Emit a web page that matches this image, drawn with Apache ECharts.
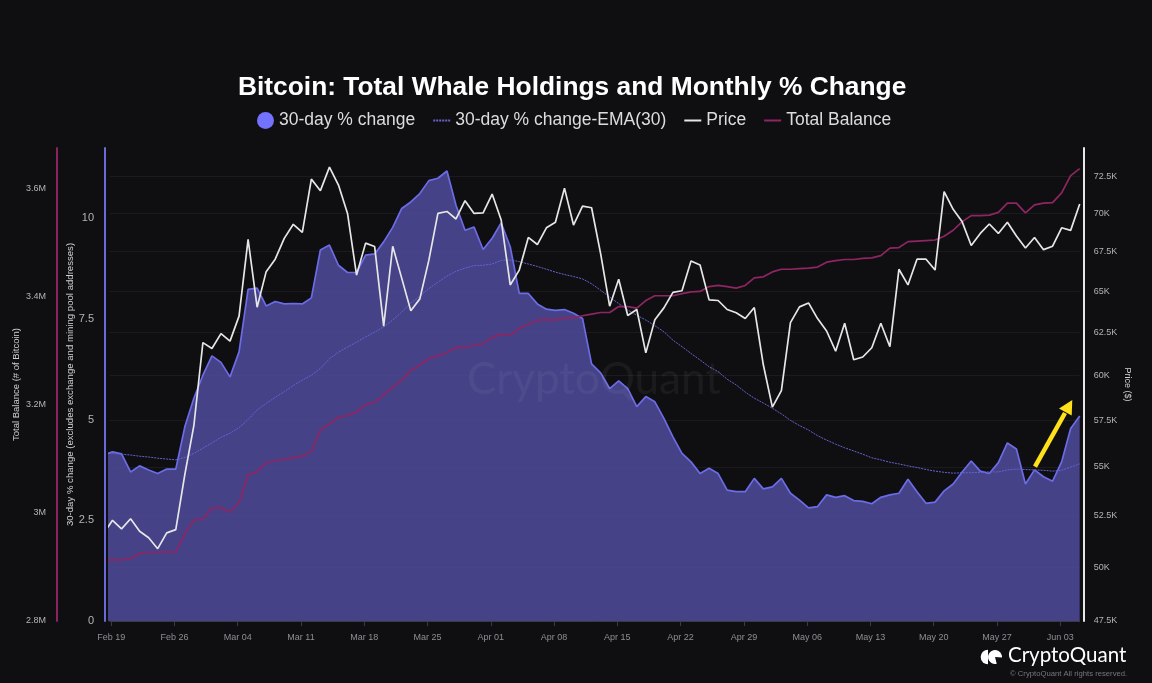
<!DOCTYPE html>
<html lang="en">
<head>
    <meta charset="UTF-8">
    <title>Bitcoin: Total Whale Holdings and Monthly % Change</title>
    <script type="text/javascript" src="https://cdn.jsdelivr.net/npm/echarts@6/dist/echarts.min.js"></script>
    <style>
        html, body { margin: 0; padding: 0; background: #0f0f12; }
        #chart { width: 1152px; height: 683px; }
    </style>
</head>
<body>
<div id="chart"></div>
<script type="text/javascript">
    var change30d = [4.12, 4.20, 4.15, 3.70, 3.85, 3.75, 3.66, 3.77, 3.77, 4.82, 5.53, 6.10, 6.58, 6.42, 6.06, 6.68, 8.23, 8.26, 7.82, 7.93,
        7.87, 7.88, 7.87, 8.02, 9.21, 9.33, 8.83, 8.65, 8.65, 9.08, 9.11, 9.41, 9.77, 10.24, 10.40, 10.61, 10.93, 10.99, 11.17, 10.32,
        9.70, 9.78, 9.22, 9.50, 9.88, 9.29, 8.13, 8.13, 7.87, 7.74, 7.71, 7.73, 7.64, 7.51, 6.38, 6.16, 5.77, 5.96, 5.77, 5.32,
        5.57, 5.44, 5.03, 4.57, 4.16, 3.95, 3.66, 3.79, 3.66, 3.25, 3.21, 3.21, 3.54, 3.28, 3.33, 3.54, 3.17, 3.00, 2.81, 2.84,
        3.13, 3.07, 3.11, 2.99, 2.97, 2.91, 3.07, 3.13, 3.17, 3.52, 3.21, 2.92, 2.95, 3.23, 3.40, 3.70, 3.97, 3.72, 3.66, 3.93,
        4.42, 4.27, 3.40, 3.75, 3.58, 3.47, 3.95, 4.78, 5.09];

    var changeEma = [4.16, 4.16, 4.14, 4.12, 4.09, 4.07, 4.04, 4.02, 4.00, 4.06, 4.16, 4.29, 4.42, 4.56, 4.66, 4.80, 5.00, 5.24, 5.40, 5.55,
        5.69, 5.84, 5.98, 6.10, 6.27, 6.51, 6.67, 6.80, 6.92, 7.05, 7.17, 7.30, 7.47, 7.67, 7.89, 8.06, 8.25, 8.41, 8.56, 8.68,
        8.76, 8.82, 8.83, 8.86, 8.95, 8.96, 8.92, 8.86, 8.80, 8.73, 8.66, 8.60, 8.55, 8.49, 8.37, 8.21, 8.04, 7.88, 7.72, 7.59,
        7.47, 7.33, 7.18, 6.97, 6.81, 6.64, 6.48, 6.31, 6.19, 6.00, 5.86, 5.68, 5.53, 5.41, 5.28, 5.14, 4.98, 4.85, 4.74, 4.60,
        4.49, 4.39, 4.30, 4.22, 4.14, 4.05, 4.00, 3.94, 3.90, 3.85, 3.81, 3.76, 3.72, 3.69, 3.67, 3.68, 3.68, 3.69, 3.70, 3.70,
        3.75, 3.77, 3.76, 3.75, 3.74, 3.72, 3.74, 3.82, 3.90];

    // thousands of $
    var price = [51.62, 52.27, 51.85, 52.35, 51.73, 51.41, 50.88, 51.65, 51.81, 54.59, 57.19, 61.89, 61.55, 62.42, 61.98, 63.47, 68.27, 64.01, 66.21, 67.00,
        68.34, 69.26, 68.73, 72.30, 71.51, 73.13, 71.89, 69.98, 66.00, 68.03, 67.81, 62.87, 67.83, 65.79, 63.79, 64.52, 66.94, 69.98, 70.11, 69.61,
        70.83, 69.98, 70.02, 71.28, 69.54, 65.38, 66.31, 68.40, 67.94, 69.03, 69.39, 71.68, 69.21, 70.47, 70.36, 67.36, 64.07, 65.73, 63.51, 63.87,
        61.29, 63.25, 63.97, 64.92, 65.02, 66.89, 66.63, 64.46, 64.42, 63.87, 63.67, 63.33, 63.99, 60.60, 58.21, 59.13, 63.08, 64.03, 64.27, 63.32,
        62.58, 61.39, 63.04, 60.89, 61.05, 61.59, 63.04, 61.65, 66.36, 65.38, 67.00, 67.00, 66.31, 71.44, 70.25, 69.42, 67.88, 68.66, 69.28, 68.66,
        69.39, 68.49, 67.72, 68.40, 67.61, 67.83, 69.03, 68.86, 70.61];

    // millions of BTC
    var totalBalance = [2.912, 2.913, 2.913, 2.915, 2.925, 2.927, 2.927, 2.928, 2.927, 2.962, 2.986, 2.988, 3.009, 3.009, 3.001, 3.019, 3.070, 3.076, 3.092, 3.097,
        3.098, 3.102, 3.105, 3.113, 3.153, 3.164, 3.176, 3.180, 3.186, 3.200, 3.204, 3.218, 3.232, 3.245, 3.263, 3.273, 3.285, 3.290, 3.296, 3.305,
        3.305, 3.310, 3.312, 3.324, 3.330, 3.328, 3.341, 3.348, 3.356, 3.357, 3.356, 3.360, 3.360, 3.364, 3.367, 3.370, 3.370, 3.381, 3.381, 3.378,
        3.392, 3.401, 3.401, 3.401, 3.405, 3.408, 3.409, 3.418, 3.420, 3.418, 3.415, 3.420, 3.434, 3.436, 3.445, 3.450, 3.450, 3.451, 3.452, 3.454,
        3.463, 3.466, 3.468, 3.468, 3.470, 3.471, 3.475, 3.489, 3.490, 3.501, 3.502, 3.503, 3.504, 3.511, 3.522, 3.538, 3.549, 3.549, 3.550, 3.555,
        3.572, 3.572, 3.554, 3.569, 3.572, 3.573, 3.591, 3.623, 3.636];

    var balanceTicks = [2.8, 3, 3.2, 3.4, 3.6];
    var changeTicks = [0, 2.5, 5, 7.5, 10];
    var priceTicks = [47.5, 50, 52.5, 55, 57.5, 60, 62.5, 65, 67.5, 70, 72.5];
    var dateLabels = ['Feb 19', 'Feb 26', 'Mar 04', 'Mar 11', 'Mar 18', 'Mar 25', 'Apr 01', 'Apr 08', 'Apr 15', 'Apr 22', 'Apr 29', 'May 06', 'May 13', 'May 20', 'May 27', 'Jun 03'];

    // x is days since Feb 19, the readings start on day -1 which is clipped by the plot edge
    function withDays(values) {
        return values.map(function (v, i) { return [i - 1, v]; });
    }
    // the site's ticks sit a touch left of the daily points
    var xTickValues = dateLabels.map(function (d, i) { return i * 7 - 0.15; });

    var textColor = '#b4b4b8';
    var fontName = '"Liberation Sans", Arial, sans-serif';

    var myChart = echarts.init(document.getElementById('chart'));
    var option = {
        backgroundColor: '#0f0f12',
        animation: false,
        textStyle: {fontFamily: fontName},
        title: {
            text: 'Bitcoin: Total Whale Holdings and Monthly % Change',
            left: 238,
            top: 75,
            padding: 0,
            textStyle: {color: '#ffffff', fontSize: 26.35, fontWeight: 'bold', fontFamily: fontName}
        },
        legend: {
            left: 257,
            top: 111.5,
            padding: 0,
            selectedMode: false,
            itemWidth: 17,
            itemHeight: 17,
            itemGap: 17,
            textStyle: {color: '#dcdcdc', fontSize: 17.5, fontFamily: fontName},
            // opacity 0 keeps only the line part of the line icons
            data: [
                {name: '30-day % change', icon: 'circle', itemStyle: {color: '#7272ff'}},
                {name: '30-day % change-EMA(30)', itemStyle: {opacity: 0}},
                {name: 'Price', itemStyle: {opacity: 0}},
                {name: 'Total Balance', itemStyle: {opacity: 0}}
            ]
        },
        grid: {left: 109.7, right: 72.3, top: 148, bottom: 62, outerBoundsMode: 'none'},
        xAxis: {
            type: 'value',
            min: -0.31,
            max: 107,
            axisLine: {onZero: false, lineStyle: {color: '#3a3a44'}},
            axisTick: {show: true, length: 5, lineStyle: {color: '#3a3a44'}, customValues: xTickValues},
            splitLine: {show: false},
            axisLabel: {
                color: '#8e8e94',
                fontSize: 9,
                margin: 12,
                customValues: xTickValues,
                formatter: function (v) { return dateLabels[Math.round(v / 7)]; }
            }
        },
        yAxis: [
            {
                type: 'value',
                position: 'left',
                offset: 52.7,
                min: 2.8,
                max: 3.674,
                name: 'Total Balance (# of Bitcoin)',
                nameLocation: 'middle',
                nameMoveOverlap: false,
                nameGap: 36,
                nameTextStyle: {color: '#d0d0d0', fontSize: 9.5},
                axisLine: {show: true, onZero: false, lineStyle: {color: '#8c2260', width: 2}},
                axisTick: {show: false, customValues: balanceTicks},
                splitLine: {show: false},
                axisLabel: {
                    color: textColor, fontSize: 9, margin: 11,
                    customValues: balanceTicks,
                    formatter: function (v) { return v + 'M'; }
                }
            },
            {
                type: 'value',
                position: 'left',
                offset: 4.7,
                min: 0,
                max: 11.74,
                name: '30-day % change (excludes exchange and mining pool addresses)',
                nameLocation: 'middle',
                nameMoveOverlap: false,
                nameGap: 30,
                nameTextStyle: {color: '#d0d0d0', fontSize: 9.6},
                axisLine: {show: true, onZero: false, lineStyle: {color: '#6a6ad8', width: 2}},
                axisTick: {show: false, customValues: changeTicks},
                splitLine: {show: false},
                axisLabel: {color: textColor, fontSize: 11, margin: 11, customValues: changeTicks}
            },
            {
                type: 'log',
                position: 'right',
                offset: 4,
                min: 47.5,
                max: 74.47,
                name: 'Price ($)',
                nameLocation: 'middle',
                nameMoveOverlap: false,
                nameRotate: -90,
                nameGap: 39.5,
                nameTextStyle: {color: '#d0d0d0', fontSize: 9},
                axisLine: {show: true, onZero: false, lineStyle: {color: '#e8e8e8', width: 2}},
                axisTick: {show: false, customValues: priceTicks},
                splitLine: {show: true, lineStyle: {color: 'rgba(255,255,255,0.05)', width: 1}},
                axisLabel: {
                    color: textColor, fontSize: 9, margin: 10,
                    customValues: priceTicks,
                    formatter: function (v) { return (Math.round(v * 10) / 10) + 'K'; }
                }
            }
        ],
        series: [
            {
                name: '30-day % change',
                type: 'line',
                yAxisIndex: 1,
                data: withDays(change30d),
                symbol: 'none',
                lineStyle: {color: '#6c6ce6', width: 1.7},
                itemStyle: {color: '#7272ff'},
                areaStyle: {color: 'rgb(79,75,156)', opacity: 0.85}
            },
            {
                name: '30-day % change-EMA(30)',
                type: 'line',
                yAxisIndex: 1,
                data: withDays(changeEma),
                symbol: 'none',
                lineStyle: {color: '#6464d2', width: 1, type: [2, 1]},
                itemStyle: {color: '#6464d2'}
            },
            {
                name: 'Total Balance',
                type: 'line',
                yAxisIndex: 0,
                data: withDays(totalBalance),
                symbol: 'none',
                lineStyle: {color: '#8f2563', width: 1.7},
                itemStyle: {color: '#8f2563'}
            },
            {
                name: 'Price',
                type: 'line',
                yAxisIndex: 2,
                data: withDays(price),
                symbol: 'none',
                lineStyle: {color: '#e6e6e6', width: 1.7},
                itemStyle: {color: '#e6e6e6'}
            }
        ],
        graphic: [
            // watermark
            {
                type: 'text', left: 467, top: 358, silent: true, z: 10,
                style: {text: 'CryptoQuant', fill: 'rgba(255,255,255,0.05)', font: '44px Lato, sans-serif'}
            },
            // yellow arrow
            {
                type: 'line', silent: true, z: 10,
                shape: {x1: 1035, y1: 466.7, x2: 1065, y2: 413},
                style: {stroke: '#ffe01a', lineWidth: 4.5}
            },
            {
                type: 'polygon', silent: true, z: 10,
                shape: {points: [[1072.3, 400], [1071.7, 415.5], [1059, 408.5]]},
                style: {fill: '#ffe01a'}
            },
            // logo
            {
                type: 'sector', silent: true,
                shape: {cx: 988, cy: 657, r: 7.3, startAngle: Math.PI / 2, endAngle: Math.PI * 1.5},
                style: {fill: '#ffffff'}
            },
            {
                type: 'sector', silent: true,
                shape: {cx: 995, cy: 657, r: 7, startAngle: Math.PI * 0.42, endAngle: Math.PI * 2.02},
                style: {fill: '#ffffff'}
            },
            {
                type: 'text', left: 1008, top: 645, silent: true,
                style: {text: 'CryptoQuant', fill: '#ffffff', font: '20.5px Lato, sans-serif'}
            },
            {
                type: 'text', left: 1010, top: 670, silent: true,
                style: {text: '© CryptoQuant All rights reserved.', fill: '#77777c', font: '7.7px "Liberation Sans", sans-serif'}
            }
        ]
    };
    myChart.setOption(option);
</script>
</body>
</html>
